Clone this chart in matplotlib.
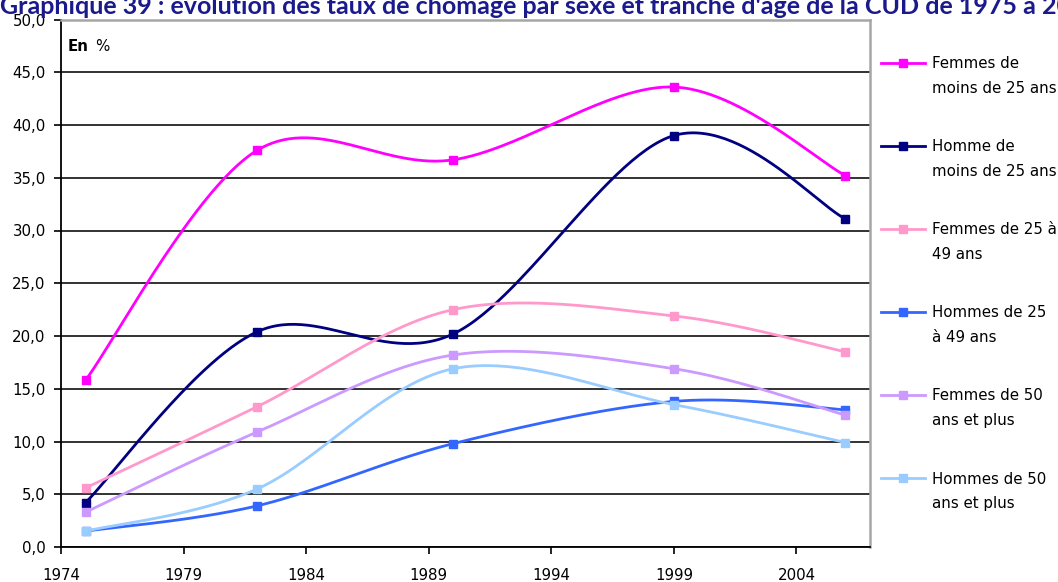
import numpy as np
import matplotlib
matplotlib.use("Agg")
import matplotlib.pyplot as plt
from matplotlib.offsetbox import HPacker
from matplotlib.ticker import FuncFormatter

# Taux de chômage (%) par sexe et tranche d'âge, recensements 1975-2006
years = [1975, 1982, 1990, 1999, 2006]

femmes_moins_25 = [15.8, 37.6, 36.7, 43.6, 35.2]
hommes_moins_25 = [4.2, 20.4, 20.2, 39.0, 31.1]
femmes_25_49 = [5.6, 13.3, 22.5, 21.9, 18.5]
hommes_25_49 = [1.5, 3.9, 9.8, 13.8, 13.0]
femmes_50_plus = [3.3, 10.9, 18.2, 16.9, 12.5]
hommes_50_plus = [1.5, 5.5, 16.9, 13.5, 9.9]

series_labels = [
    "Femmes de\nmoins de 25 ans",
    "Homme de\nmoins de 25 ans",
    "Femmes de 25 à\n49 ans",
    "Hommes de 25\nà 49 ans",
    "Femmes de 50\nans et plus",
    "Hommes de 50\nans et plus",
]
series_values = [femmes_moins_25, hommes_moins_25, femmes_25_49,
                 hommes_25_49, femmes_50_plus, hommes_50_plus]
series_colors = ["#FF00FF", "#000080", "#FF99CC", "#3366FF", "#CC99FF", "#99CCFF"]

y_ticks = [0, 5, 10, 15, 20, 25, 30, 35, 40, 45, 50]
x_ticks = [1974, 1979, 1984, 1989, 1994, 1999, 2004]

title = ("Graphique 39 : évolution des taux de chômage par sexe et tranche "
         "d'âge de la CUD de 1975 à 2006")


def smooth_curve(xs, ys, n=60):
    """Piecewise cubic Bezier through the points (Catmull-Rom handles)."""
    p = np.column_stack([xs, ys]).astype(float)
    out = []
    for i in range(len(p) - 1):
        p0 = p[i - 1] if i > 0 else p[i]
        p1, p2 = p[i], p[i + 1]
        p3 = p[i + 2] if i + 2 < len(p) else p[i + 1]
        c1 = p1 + (p2 - p0) / 6.0
        c2 = p2 - (p3 - p1) / 6.0
        t = np.linspace(0, 1, n)[:, None]
        seg = ((1 - t) ** 3) * p1 + 3 * ((1 - t) ** 2) * t * c1 \
            + 3 * (1 - t) * t ** 2 * c2 + t ** 3 * p2
        out.append(seg if i == 0 else seg[1:])
    c = np.vstack(out)
    return c[:, 0], c[:, 1]


plt.rcParams["font.family"] = ["DejaVu Sans"]

W, H = 1058, 582
fig = plt.figure(figsize=(W / 100, H / 100), dpi=100)
ax = fig.add_axes([61 / W, 1 - 547 / H, (870 - 61) / W, (547 - 19.5) / H])

for vals, label, color in zip(series_values, series_labels, series_colors):
    sx, sy = smooth_curve(years, vals)
    ax.plot(sx, sy, color=color, lw=2.0, solid_capstyle="round")
    ax.plot(years, vals, linestyle="none", marker="s", markersize=6,
            color=color)
    ax.plot([], [], color=color, lw=2.0, marker="s", markersize=6,
            label=label)

ax.set_xlim(1974, 2007)
ax.set_ylim(0, 50)
ax.set_yticks(y_ticks)
ax.set_xticks(x_ticks)
ax.yaxis.set_major_formatter(FuncFormatter(lambda v, _: f"{v:.1f}".replace(".", ",")))
ax.yaxis.grid(True, color="#222222", lw=1.3)
ax.set_axisbelow(True)
ax.tick_params(axis="both", direction="out", length=5, width=1.2,
               labelsize=10.8, colors="black")
ax.tick_params(axis="y", pad=6)
ax.tick_params(axis="x", pad=10)

for side in ("left", "bottom"):
    ax.spines[side].set_color("black")
    ax.spines[side].set_linewidth(1.3)
for side in ("top", "right"):
    ax.spines[side].set_color("#a6a6a6")
    ax.spines[side].set_linewidth(1.8)

ax.text(7 / 809, 0.948, "En", transform=ax.transAxes, fontsize=10.8,
        fontweight="bold", va="center", ha="left")
ax.text(34 / 809, 0.948, "%", transform=ax.transAxes, fontsize=10.8,
        va="center", ha="left")

fig.text(0.0, 1 - 14 / H, title, fontsize=18, fontweight="bold",
         family="Lato", color="#1a1a8c", ha="left", va="baseline")

leg = fig.legend(loc="upper left", bbox_to_anchor=(873 / W, 1 - 48.5 / H),
                 frameon=False, fontsize=10.8, handlelength=2.95,
                 handletextpad=0.5, labelspacing=2.9, borderpad=0,
                 handleheight=1.3)
for t in leg.get_texts():
    t.set_linespacing(1.8)


def _align_entries(box):
    for child in box.get_children():
        if isinstance(child, HPacker):
            child.align = "top"
        if hasattr(child, "get_children"):
            _align_entries(child)


_align_entries(leg._legend_box)

fig.savefig("out.png", dpi=100)
